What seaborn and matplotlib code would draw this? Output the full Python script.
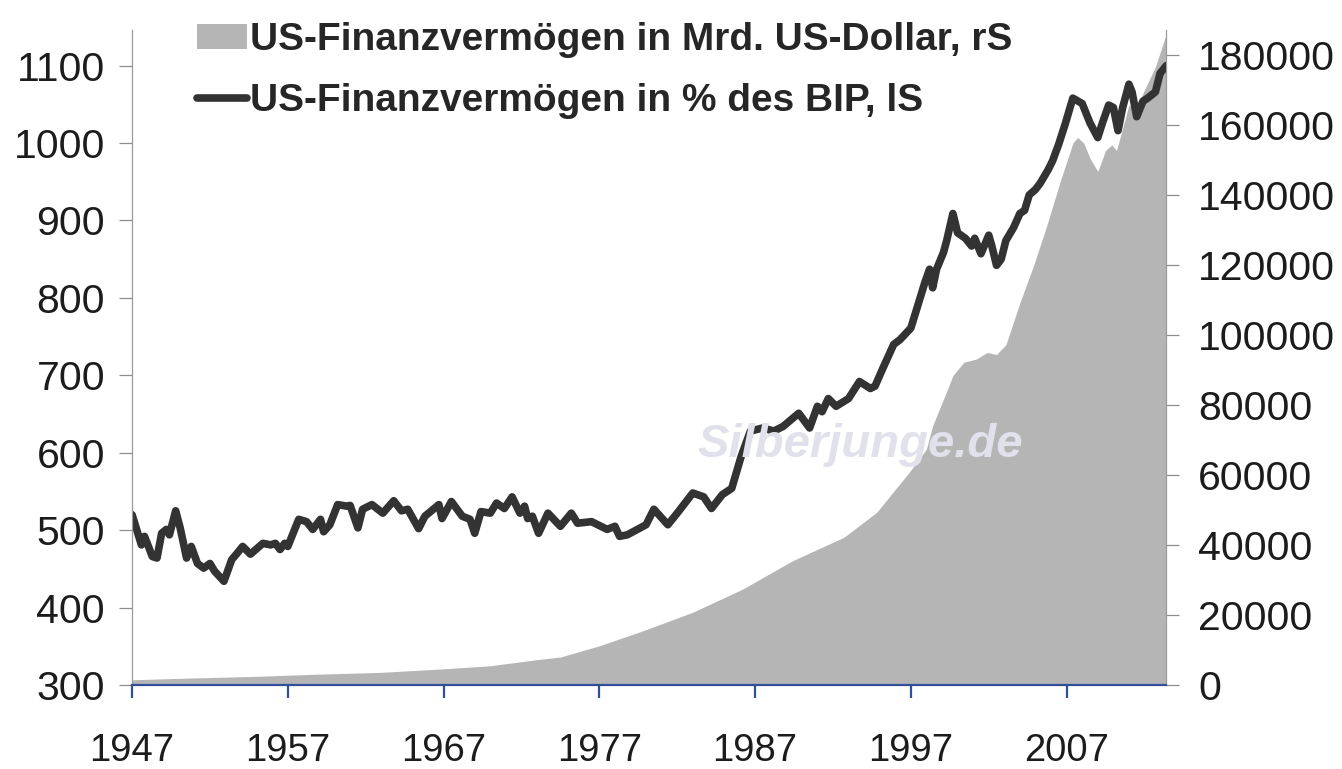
import numpy as np
import pandas as pd
import seaborn as sns
import matplotlib.pyplot as plt
from matplotlib.patches import Patch
from matplotlib.lines import Line2D

# US financial assets in % of GDP (left axis)
line_years = [1947.0, 1947.6, 1947.8, 1948.3, 1948.6, 1948.9, 1949.2, 1949.4, 1949.8, 1950.1,
              1950.5, 1950.8, 1951.2, 1951.6, 1952.0, 1952.3, 1952.9, 1953.4, 1953.7, 1954.1,
              1954.6, 1955.4, 1955.9, 1956.2, 1956.5, 1956.8, 1957.0, 1957.7, 1958.2, 1958.6,
              1959.1, 1959.3, 1959.7, 1960.2, 1960.8, 1961.0, 1961.5, 1961.8, 1962.4, 1963.1,
              1963.8, 1964.3, 1964.7, 1965.4, 1965.8, 1966.7, 1966.9, 1967.5, 1968.2, 1968.7,
              1969.0, 1969.4, 1970.0, 1970.4, 1970.9, 1971.4, 1971.9, 1972.2, 1972.4, 1972.7,
              1973.1, 1973.7, 1974.5, 1975.2, 1975.6, 1976.5, 1977.5, 1978.0, 1978.3, 1978.8,
              1980.0, 1980.5, 1981.4, 1982.0, 1983.0, 1983.7, 1984.2, 1984.9, 1985.5, 1986.1,
              1986.7, 1987.5, 1988.2, 1988.8, 1989.8, 1990.5, 1991.0, 1991.3, 1991.7, 1992.2,
              1993.0, 1993.7, 1994.4, 1994.7, 1995.2, 1995.9, 1996.3, 1997.0, 1997.9, 1998.2,
              1998.4, 1998.65, 1999.1, 1999.3, 1999.7, 2000.0, 2000.5, 2000.9, 2001.1, 2001.5,
              2002.0, 2002.2, 2002.5, 2002.8, 2003.1, 2003.6, 2004.0, 2004.3, 2004.6, 2005.0,
              2005.3, 2005.8, 2006.1, 2006.5, 2006.9, 2007.4, 2008.0, 2008.5, 2009.0, 2009.3,
              2009.7, 2010.0, 2010.3, 2010.6, 2011.0, 2011.2, 2011.5, 2011.9, 2012.2, 2012.7,
              2013.0, 2013.4]
line_pct = [520, 481, 492, 466, 464, 496, 501, 494, 525, 502,
            464, 479, 457, 451, 457, 447, 434, 462, 469, 479,
            469, 483, 481, 483, 475, 483, 479, 514, 511, 501,
            514, 498, 507, 533, 531, 532, 503, 527, 533, 522,
            538, 525, 527, 502, 518, 533, 515, 537, 518, 514,
            496, 524, 522, 535, 528, 543, 522, 531, 515, 518,
            496, 522, 505, 522, 509, 511, 501, 505, 492, 494,
            507, 527, 507, 522, 548, 543, 528, 546, 554, 595,
            628, 632, 628, 634, 651, 632, 660, 653, 670, 660,
            670, 692, 683, 686, 709, 740, 746, 761, 820, 837,
            813, 837, 859, 874, 909, 884, 877, 867, 877, 857,
            881, 867, 842, 850, 874, 891, 909, 913, 933, 940,
            948, 965, 977, 999, 1024, 1058, 1051, 1026, 1007, 1026,
            1049, 1046, 1016, 1046, 1076, 1066, 1034, 1054, 1058, 1066,
            1090, 1100]

# US financial assets in bn USD (right axis)
area_years = [1947.0, 1950.0, 1955.1, 1958.9, 1962.9, 1966.9, 1970.0, 1972.9, 1974.5, 1977.0,
              1979.8, 1983.0, 1986.2, 1989.4, 1992.7, 1994.8, 1996.9, 1998.0, 1998.4,
              1999.1, 1999.7, 2000.4, 2001.2, 2001.9, 2002.5, 2003.1, 2004.0, 2004.9, 2005.7,
              2006.6, 2007.4, 2007.7, 2008.1, 2008.5, 2009.0, 2009.5, 2009.9, 2010.2, 2010.5,
              2011.0, 2011.4, 2012.0, 2012.7, 2013.4]
area_bn = [1500, 1900, 2500, 3100, 3600, 4600, 5500, 7200, 8000, 11200,
           15500, 20800, 27400, 35500, 42200, 49300, 60800, 67400, 74100,
           81700, 88400, 92200, 93100, 95000, 94400, 97200, 109200, 120100, 130900,
           144000, 154800, 156400, 154800, 150500, 146700, 152700, 154300, 152700, 157500,
           165700, 164100, 170000, 176600, 186000]

x_ticks = [1947, 1957, 1967, 1977, 1987, 1997, 2007]
left_ticks = list(range(300, 1101, 100))
right_ticks = list(range(0, 180001, 20000))

label_area = 'US-Finanzvermögen in Mrd. US-Dollar, rS'
label_line = 'US-Finanzvermögen in % des BIP, lS'

sns.set_style('white')
plt.rcParams['font.family'] = ['Liberation Sans', 'DejaVu Sans']

fig = plt.figure(figsize=(13.42, 7.69), dpi=100)
ax = fig.add_axes([0.0984, 0.1092, 0.7701, 0.8518])
ax2 = ax.twinx()

# area on right axis, line on left axis drawn above it
ax2.fill_between(area_years, 0, area_bn, color='#b5b5b5', linewidth=0)
df = pd.DataFrame({'year': line_years, 'pct': line_pct})
sns.lineplot(data=df, x='year', y='pct', ax=ax, color='#333333', linewidth=5.5)
ax.set_zorder(ax2.get_zorder() + 1)
ax.patch.set_visible(False)

ax.set_xlim(1947, 2013.35)
ax.set_ylim(300, 1146)
ax2.set_ylim(0, 187100)
ax.set_xticks(x_ticks)
ax.set_yticks(left_ticks)
ax2.set_yticks(right_ticks)
ax.set_xlabel('')
ax.set_ylabel('')

ax.tick_params(axis='y', left=True, direction='out', length=9.4, width=0.9,
               color='#8c8c8c', labelsize=29.5, labelcolor='#1c1c1c', pad=10)
ax.tick_params(axis='x', bottom=True, direction='out', length=9.4, width=1.6,
               color='#2f4f9a', labelsize=27.5, labelcolor='#1c1c1c', pad=25)
ax2.tick_params(axis='y', right=True, direction='out', length=9.4, width=0.9,
                color='#8c8c8c', labelsize=29.5, labelcolor='#1c1c1c', pad=14)

for s in ['top', 'right']:
    ax.spines[s].set_visible(False)
for s in ['top', 'left', 'bottom']:
    ax2.spines[s].set_visible(False)
ax.spines['left'].set_color('#9a9a9a')
ax.spines['left'].set_linewidth(0.9)
ax.spines['bottom'].set_color('#2f4f9a')
ax.spines['bottom'].set_linewidth(1.6)
ax2.spines['right'].set_color('#9a9a9a')
ax2.spines['right'].set_linewidth(0.9)

# watermark
fig.text(0.6408, 0.4057, 'Silberjunge.de', ha='center', va='baseline', fontsize=34,
         style='italic', weight='bold', color='#e1e1eb', zorder=10)

handles = [Patch(facecolor='#b5b5b5', edgecolor='none'),
           Line2D([0], [0], color='#333333', linewidth=5.5)]
fig.legend(handles, [label_area, label_line], loc='upper left',
           bbox_to_anchor=(0.1468, 0.971), frameon=False,
           prop={'size': 28, 'weight': 'bold'}, labelcolor='#262626',
           handlelength=1.29, handleheight=0.64, handletextpad=0.06,
           labelspacing=0.64, borderpad=0, borderaxespad=0)

plt.savefig('out.png', dpi=100)
